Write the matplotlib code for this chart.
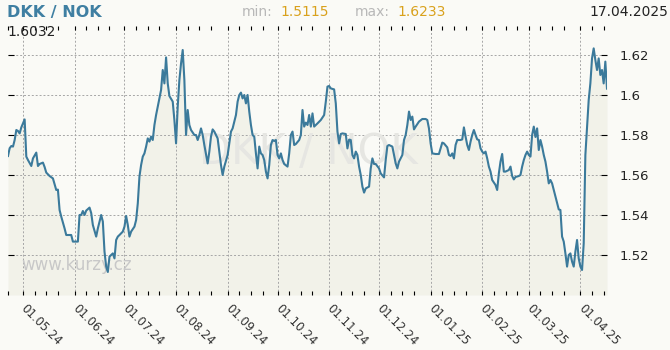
import numpy as np
import pandas as pd
import matplotlib
matplotlib.use('Agg')
import matplotlib.pyplot as plt
import matplotlib.dates as mdates
from matplotlib.ticker import FuncFormatter

# kurz DKK/NOK, dny od 1.5.2024
start = pd.Timestamp('2024-05-01')
days = [-9, -8, -7, -6, -5, -4, -3, -2, -1, 0, 1, 2, 3, 5, 6, 8, 9, 10, 12, 13,
        14, 16, 18, 20, 21, 22, 23, 25, 26, 29, 30, 33, 34, 35, 36, 37, 38, 40, 41, 42,
        44, 45, 47, 48, 49, 50, 51, 52, 54, 55, 56, 57, 58, 60, 61, 62, 63, 64, 65, 67,
        68, 69, 70, 71, 72, 73, 74, 75, 76, 77, 78, 79, 80, 81, 82, 83, 84, 85, 86, 87,
        88, 90, 91, 92, 93, 94, 95, 96, 97, 98, 99, 100, 101, 103, 104, 105, 106, 107, 108, 109,
        110, 111, 112, 113, 114, 115, 117, 118, 119, 120, 121, 123, 124, 125, 126, 127, 128, 129, 130, 131,
        132, 133, 134, 135, 136, 137, 138, 139, 140, 141, 142, 143, 144, 145, 146, 147, 148, 149, 150, 151,
        152, 153, 154, 155, 156, 157, 159, 160, 161, 162, 163, 164, 166, 167, 168, 169, 170, 171, 172, 173,
        174, 175, 177, 179, 181, 182, 183, 184, 185, 187, 188, 189, 190, 191, 192, 194, 195, 196, 197, 198,
        199, 200, 201, 202, 203, 204, 205, 206, 208, 209, 210, 211, 212, 214, 215, 217, 218, 219, 220, 222,
        224, 225, 226, 228, 229, 230, 231, 232, 233, 234, 235, 236, 238, 240, 242, 243, 244, 245, 246, 248,
        250, 251, 252, 253, 255, 256, 257, 258, 259, 260, 261, 263, 264, 265, 266, 267, 268, 269, 270, 271,
        272, 273, 274, 275, 276, 277, 278, 279, 280, 281, 282, 284, 285, 286, 287, 288, 289, 290, 292, 293,
        294, 295, 296, 298, 299, 300, 301, 302, 303, 304, 305, 306, 307, 308, 309, 310, 311, 312, 313, 314,
        315, 316, 317, 318, 319, 320, 321, 322, 323, 324, 325, 326, 327, 328, 329, 330, 331, 332, 333, 334,
        335, 336, 337, 338, 339, 340, 341, 342, 343, 344, 345, 346, 347, 348, 349, 350, 351]
rates = [1.5695, 1.5734, 1.5745, 1.5742, 1.5775, 1.5825, 1.5820, 1.5808, 1.5838, 1.5858,
         1.5878, 1.5692, 1.5675, 1.5645, 1.5683, 1.5712, 1.5645, 1.5655, 1.5662, 1.5640,
         1.5612, 1.5595, 1.5583, 1.5525, 1.5527, 1.5425, 1.5392, 1.5333, 1.5300, 1.5300,
         1.5267, 1.5267, 1.5400, 1.5400, 1.5420, 1.5400, 1.5422, 1.5437, 1.5410, 1.5350,
         1.5292, 1.5333, 1.5400, 1.5367, 1.5217, 1.5142, 1.5115, 1.5192, 1.5208, 1.5183,
         1.5275, 1.5292, 1.5300, 1.5317, 1.5342, 1.5395, 1.5350, 1.5292, 1.5317, 1.5342,
         1.5375, 1.5458, 1.5592, 1.5650, 1.5692, 1.5708, 1.5742, 1.5783, 1.5767, 1.5792,
         1.5775, 1.5850, 1.5900, 1.5942, 1.5983, 1.6025, 1.6125, 1.6058, 1.6188, 1.6058,
         1.5995, 1.5967, 1.5875, 1.5758, 1.5942, 1.6075, 1.6158, 1.6225, 1.6075, 1.5800,
         1.5925, 1.5850, 1.5825, 1.5800, 1.5800, 1.5775, 1.5800, 1.5833, 1.5800, 1.5750,
         1.5705, 1.5658, 1.5717, 1.5792, 1.5828, 1.5817, 1.5783, 1.5717, 1.5650, 1.5600,
         1.5642, 1.5700, 1.5758, 1.5817, 1.5833, 1.5867, 1.5900, 1.5967, 1.6000, 1.6012,
         1.5983, 1.6000, 1.5958, 1.6000, 1.5917, 1.5850, 1.5800, 1.5792, 1.5708, 1.5633,
         1.5742, 1.5708, 1.5700, 1.5675, 1.5617, 1.5583, 1.5650, 1.5750, 1.5775, 1.5770,
         1.5775, 1.5700, 1.5683, 1.5708, 1.5675, 1.5655, 1.5642, 1.5708, 1.5800, 1.5817,
         1.5750, 1.5755, 1.5775, 1.5800, 1.5925, 1.5842, 1.5862, 1.5850, 1.5900, 1.5842,
         1.5908, 1.5842, 1.5858, 1.5875, 1.5900, 1.5967, 1.6042, 1.6045, 1.6033, 1.6028,
         1.5958, 1.5817, 1.5758, 1.5805, 1.5808, 1.5805, 1.5733, 1.5777, 1.5775, 1.5700,
         1.5683, 1.5717, 1.5700, 1.5642, 1.5600, 1.5542, 1.5512, 1.5533, 1.5542, 1.5633,
         1.5683, 1.5655, 1.5655, 1.5633, 1.5608, 1.5588, 1.5675, 1.5745, 1.5750, 1.5742,
         1.5658, 1.5633, 1.5667, 1.5700, 1.5775, 1.5800, 1.5850, 1.5917, 1.5875, 1.5892,
         1.5828, 1.5842, 1.5867, 1.5880, 1.5880, 1.5875, 1.5833, 1.5758, 1.5708, 1.5705,
         1.5705, 1.5733, 1.5762, 1.5758, 1.5738, 1.5700, 1.5695, 1.5708, 1.5683, 1.5750,
         1.5775, 1.5775, 1.5778, 1.5838, 1.5792, 1.5750, 1.5725, 1.5767, 1.5800, 1.5825,
         1.5800, 1.5778, 1.5775, 1.5733, 1.5717, 1.5708, 1.5717, 1.5683, 1.5642, 1.5617,
         1.5575, 1.5550, 1.5525, 1.5608, 1.5667, 1.5705, 1.5617, 1.5617, 1.5625, 1.5642,
         1.5595, 1.5578, 1.5590, 1.5595, 1.5600, 1.5642, 1.5675, 1.5700, 1.5717, 1.5700,
         1.5692, 1.5800, 1.5842, 1.5790, 1.5833, 1.5725, 1.5775, 1.5742, 1.5700, 1.5667,
         1.5617, 1.5558, 1.5575, 1.5558, 1.5525, 1.5492, 1.5458, 1.5428, 1.5425, 1.5292,
         1.5267, 1.5208, 1.5142, 1.5200, 1.5208, 1.5167, 1.5142, 1.5217, 1.5275, 1.5183,
         1.5142, 1.5125, 1.5258, 1.5700, 1.5842, 1.5975, 1.6058, 1.6183, 1.6233, 1.6175,
         1.6125, 1.6183, 1.6100, 1.6125, 1.6058, 1.6167, 1.6032]
y_ticks = [1.52, 1.54, 1.56, 1.58, 1.60, 1.62]

dates = start + pd.to_timedelta(days, unit='D')

bg = '#fafaf6'
fill_c = '#f2f2e9'
line_c = '#3b7a9b'
gold = '#d9a11c'

fig = plt.figure(figsize=(6.7, 3.5), dpi=100, facecolor=bg)
ax = fig.add_axes([8 / 670, 55 / 350, 599 / 670, 269 / 350])
ax.set_facecolor(bg)

ax.fill_between(dates, rates, 1.50, color=fill_c, lw=0, zorder=1)
ax.text(0.502, 0.53, 'DKK / NOK', transform=ax.transAxes, ha='center', va='center',
        fontsize=30, color='#e6e6e2', zorder=2)
ax.text(0.022, 0.11, 'www.kurzy.cz', transform=ax.transAxes, ha='left', va='center',
        fontsize=12, color='#c8c8c8', zorder=2)
ax.plot(dates, rates, color=line_c, lw=1.5, zorder=3)

ax.set_xlim(dates[0], dates[-1])
ax.set_ylim(1.50, 1.6345)

for s in ax.spines.values():
    s.set_visible(False)

ax.xaxis.set_major_locator(mdates.MonthLocator())
ax.xaxis.set_minor_locator(mdates.DayLocator(bymonthday=[8, 15, 22]))
ax.xaxis.set_major_formatter(mdates.DateFormatter('%d.%m.%y'))
ax.set_yticks(y_ticks)
ax.yaxis.set_major_formatter(FuncFormatter(lambda v, p: f'{v:.2f}'.rstrip('0').rstrip('.')))

ax.grid(True, which='major', color='#a6a6a6', linestyle=(0, (2, 2)), lw=0.7)

ax.tick_params(axis='x', which='both', direction='in', top=True, bottom=True,
               length=3, width=0.8, color='black')
ax.tick_params(axis='x', which='major', labelsize=8.5, labelcolor='#333333', pad=8)
ax.tick_params(axis='y', direction='in', left=True, right=True, labelleft=False,
               labelright=True, length=4, width=0.8, color='black',
               labelsize=9.5, labelcolor='#222222', pad=9)
for lbl in ax.get_xticklabels():
    lbl.set_rotation(-45)
    lbl.set_ha('left')
    lbl.set_va('center')
    lbl.set_rotation_mode('anchor')

# hlavicka
ty = 1 - 12 / 350
fig.text(7 / 670, ty, 'DKK / NOK', ha='left', va='center', fontsize=11.5,
         fontweight='bold', color='#3f7fa2')
fig.text(242 / 670, ty, 'min:', ha='left', va='center', fontsize=10, color='#b8b8b8')
fig.text(280 / 670, ty, f'{min(rates):.4f}', ha='left', va='center', fontsize=10, color=gold)
fig.text(355 / 670, ty, 'max:', ha='left', va='center', fontsize=10, color='#b8b8b8')
fig.text(397 / 670, ty, f'{max(rates):.4f}', ha='left', va='center', fontsize=10, color=gold)
fig.text(668 / 670, ty, dates[-1].strftime('%d.%m.%Y'), ha='right', va='center',
         fontsize=10, color='#222222')
fig.text(7 / 670, 1 - 32 / 350, f'{rates[-1]:.4f}', ha='left', va='center',
         fontsize=10, color='#222222')

fig.savefig('out.png', dpi=100, facecolor=bg)
